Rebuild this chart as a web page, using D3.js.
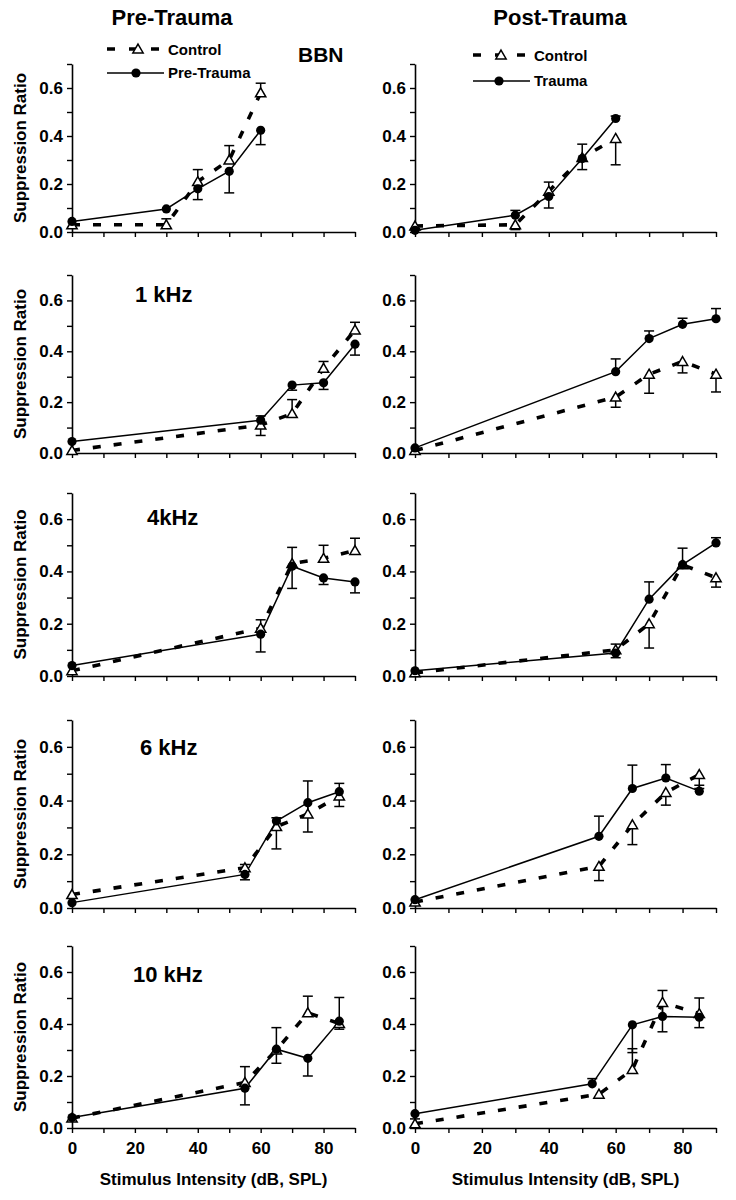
<!DOCTYPE html>
<html><head><meta charset="utf-8">
<script src="https://cdn.jsdelivr.net/npm/d3@7"></script>
<style>
body{margin:0;background:#fff}
svg{display:block}
text{font-family:"Liberation Sans",Arial,sans-serif;font-weight:bold;fill:#000}
</style>
</head><body><svg id="c" width="736" height="1200"></svg>
<script>
// ---------- data ----------
const columnTitles = ["Pre-Trauma", "Post-Trauma"];
const rowLabels = ["BBN", "1 kHz", "4kHz", "6 kHz", "10 kHz"];
const legendLeft = ["Control", "Pre-Trauma"];
const legendRight = ["Control", "Trauma"];
const yLabel = "Suppression Ratio";
const xLabel = "Stimulus Intensity (dB, SPL)";
const yTicks = [0, 0.1, 0.2, 0.3, 0.4, 0.5, 0.6, 0.7];
const yTickLabels = ["0.0", "", "0.2", "", "0.4", "", "0.6", ""];
const xTicks = [0, 10, 20, 30, 40, 50, 60, 70, 80, 90];
const xTickLabels = ["0", "", "20", "", "40", "", "60", "", "80", ""];

// stimulus levels (dB SPL)
const xBBN = [0, 30, 40, 50, 60];
const x1k = [0, 60, 70, 80, 90];
const x4k = [0, 60, 70, 80, 90];
const x6k = [0, 55, 65, 75, 85];
const x10k = [0, 55, 65, 75, 85];
const x10kPostCtrl = [0, 55, 65, 74, 85];
const x10kPostTrauma = [0, 53, 65, 74, 85];

// errors: signed (+ drawn upward, - drawn downward)
const bbnPreCtrl = [0.03, 0.03, 0.21, 0.30, 0.58];
const bbnPreCtrlErr = [0, 0.025, 0.05, 0.06, 0.04];
const bbnPre = [0.044, 0.096, 0.18, 0.253, 0.424];
const bbnPreErr = [0, 0, -0.045, -0.09, -0.06];
const bbnPostCtrl = [0.025, 0.03, 0.17, 0.31, 0.39];
const bbnPostCtrlErr = [0, -0.02, -0.07, -0.05, -0.11];
const bbnPost = [0.007, 0.07, 0.148, 0.306, 0.473];
const bbnPostErr = [0, 0.02, 0.06, 0.06, 0.01];

const k1PreCtrl = [0.01, 0.11, 0.155, 0.333, 0.484];
const k1PreCtrlErr = [0, 0.036, 0.055, 0.027, 0.03];
const k1Pre = [0.045, 0.129, 0.267, 0.276, 0.428];
const k1PreErr = [0, -0.06, -0.02, -0.026, -0.043];
const k1PostCtrl = [0.01, 0.22, 0.31, 0.36, 0.31];
const k1PostCtrlErr = [0, -0.04, -0.075, -0.045, -0.07];
const k1Post = [0.02, 0.32, 0.45, 0.506, 0.528];
const k1PostErr = [0, 0.05, 0.03, 0.024, 0.04];

const k4PreCtrl = [0.02, 0.183, 0.43, 0.45, 0.48];
const k4PreCtrlErr = [0, 0.032, 0.062, 0.05, 0.047];
const k4Pre = [0.04, 0.16, 0.42, 0.375, 0.36];
const k4PreErr = [0, -0.068, -0.085, -0.025, -0.042];
const k4PostCtrl = [0.012, 0.10, 0.20, 0.425, 0.376];
const k4PostCtrlErr = [0, -0.03, -0.093, -0.01, -0.036];
const k4Post = [0.02, 0.088, 0.294, 0.426, 0.509];
const k4PostErr = [0, 0.034, 0.066, 0.063, 0.02];

const k6PreCtrl = [0.05, 0.15, 0.303, 0.35, 0.417];
const k6PreCtrlErr = [0, 0.012, 0.033, 0.123, 0.047];
const k6Pre = [0.02, 0.125, 0.324, 0.392, 0.433];
const k6PreErr = [0, -0.02, -0.104, -0.109, -0.055];
const k6PostCtrl = [0.022, 0.155, 0.31, 0.43, 0.497];
const k6PostCtrlErr = [0, -0.053, -0.074, -0.047, -0.052];
const k6Post = [0.031, 0.267, 0.445, 0.484, 0.435];
const k6PostErr = [0, 0.075, 0.087, 0.05, 0.022];

const k10PreCtrl = [0.038, 0.175, 0.30, 0.443, 0.402];
const k10PreCtrlErr = [0, 0.061, 0.086, 0.064, 0.1];
const k10Pre = [0.04, 0.153, 0.303, 0.268, 0.411];
const k10PreErr = [0, -0.064, -0.054, -0.068, -0.031];
const k10PostCtrl = [0.016, 0.13, 0.225, 0.483, 0.44];
const k10PostCtrlErr = [0, -0.01, 0.08, -0.113, -0.054];
const k10Post = [0.055, 0.17, 0.397, 0.429, 0.426];
const k10PostErr = [-0.02, 0.02, -0.107, 0.1, 0.074];

// ---------- panels ----------
const panels = [
  {row:0,col:0,cx:xBBN,cy:bbnPreCtrl,ce:bbnPreCtrlErr,tx:xBBN,ty:bbnPre,te:bbnPreErr},
  {row:0,col:1,cx:xBBN,cy:bbnPostCtrl,ce:bbnPostCtrlErr,tx:xBBN,ty:bbnPost,te:bbnPostErr},
  {row:1,col:0,cx:x1k,cy:k1PreCtrl,ce:k1PreCtrlErr,tx:x1k,ty:k1Pre,te:k1PreErr},
  {row:1,col:1,cx:x1k,cy:k1PostCtrl,ce:k1PostCtrlErr,tx:x1k,ty:k1Post,te:k1PostErr},
  {row:2,col:0,cx:x4k,cy:k4PreCtrl,ce:k4PreCtrlErr,tx:x4k,ty:k4Pre,te:k4PreErr},
  {row:2,col:1,cx:x4k,cy:k4PostCtrl,ce:k4PostCtrlErr,tx:x4k,ty:k4Post,te:k4PostErr},
  {row:3,col:0,cx:x6k,cy:k6PreCtrl,ce:k6PreCtrlErr,tx:x6k,ty:k6Pre,te:k6PreErr},
  {row:3,col:1,cx:x6k,cy:k6PostCtrl,ce:k6PostCtrlErr,tx:x6k,ty:k6Post,te:k6PostErr},
  {row:4,col:0,cx:x10k,cy:k10PreCtrl,ce:k10PreCtrlErr,tx:x10k,ty:k10Pre,te:k10PreErr},
  {row:4,col:1,cx:x10kPostCtrl,cy:k10PostCtrl,ce:k10PostCtrlErr,tx:x10kPostTrauma,ty:k10Post,te:k10PostErr}
];

// ---------- layout ----------
const colX = [[72, 355], [415, 716]];
const rowY = [[232, 64], [453, 275], [676, 493], [908, 720], [1128, 946]];
const rowLabelPos = [null, [135, 302], [147, 525], [140, 755], [133, 982]];

const svg = d3.select("#c");
svg.append("rect").attr("width", 736).attr("height", 1200).attr("fill", "#fff");

const triPath = d3.symbol().type(d3.symbolTriangle).size(46)();

function drawTri(g, x, y) {
  g.append("path").attr("d", triPath)
    .attr("transform", `translate(${x},${y + 1})`)
    .attr("fill", "#fff").attr("stroke", "#000").attr("stroke-width", 1.5);
}
function drawDot(g, x, y) {
  g.append("circle").attr("cx", x).attr("cy", y).attr("r", 4.6).attr("fill", "#000");
}

panels.forEach(p => {
  const [x0, x1] = colX[p.col];
  const [yb, yt] = rowY[p.row];
  const x = d3.scaleLinear().domain([0, 90]).range([x0, x1]);
  const y = d3.scaleLinear().domain([0, 0.7]).range([yb, yt]);
  const g = svg.append("g");
  const bottom = p.row === 4;

  // axes
  const ax = g.append("g").attr("transform", `translate(0,${yb})`)
    .call(d3.axisBottom(x).tickValues(xTicks).tickSize(5).tickSizeOuter(0).tickPadding(9)
      .tickFormat((d, i) => bottom ? xTickLabels[i] : ""));
  const ay = g.append("g").attr("transform", `translate(${x0},0)`)
    .call(d3.axisLeft(y).tickValues(yTicks).tickSize(5).tickSizeOuter(0).tickPadding(4)
      .tickFormat((d, i) => yTickLabels[i]));
  [ax, ay].forEach(a => {
    a.selectAll("path.domain").attr("stroke", "#000").attr("stroke-width", 1.6);
    a.selectAll(".tick line").attr("stroke", "#000").attr("stroke-width", 1.4);
    a.selectAll(".tick text").attr("font-size", 17).attr("font-weight", "bold")
      .attr("font-family", '"Liberation Sans",Arial,sans-serif').attr("fill", "#000");
  });

  // y label (left column only)
  if (p.col === 0) {
    g.append("text").attr("transform", `translate(${x0 - 46},${(yb + yt) / 2}) rotate(-90)`)
      .attr("text-anchor", "middle").attr("font-size", 17).text(yLabel);
  }

  if (bottom) {
    g.append("text").attr("x", (x0 + x1) / 2).attr("y", yb + 57)
      .attr("text-anchor", "middle").attr("font-size", 17).text(xLabel);
  }

  const ctrl = p.cx.map((v, i) => ({x: v, y: p.cy[i], e: p.ce[i]}));
  const trt = p.tx.map((v, i) => ({x: v, y: p.ty[i], e: p.te[i]}));
  const line = d3.line().x(d => x(d.x)).y(d => y(d.y));

  g.append("path").datum(ctrl).attr("d", line).attr("fill", "none")
    .attr("stroke", "#000").attr("stroke-width", 3.6).attr("stroke-dasharray", "8,13");
  g.append("path").datum(trt).attr("d", line).attr("fill", "none")
    .attr("stroke", "#000").attr("stroke-width", 1.5);

  // error bars
  ctrl.concat(trt).filter(d => d.e !== 0).forEach(d => {
    const xx = x(d.x), ya = y(d.y), ye = y(d.y + d.e);
    g.append("line").attr("x1", xx).attr("x2", xx).attr("y1", ya).attr("y2", ye)
      .attr("stroke", "#000").attr("stroke-width", 1.5);
    g.append("line").attr("x1", xx - 5).attr("x2", xx + 5).attr("y1", ye).attr("y2", ye)
      .attr("stroke", "#000").attr("stroke-width", 1.5);
  });

  ctrl.forEach(d => drawTri(g, x(d.x), y(d.y)));
  trt.forEach(d => drawDot(g, x(d.x), y(d.y)));

  if (p.col === 0 && rowLabelPos[p.row]) {
    g.append("text").attr("x", rowLabelPos[p.row][0]).attr("y", rowLabelPos[p.row][1])
      .attr("font-size", 22).text(rowLabels[p.row]);
  }
});

// column titles
svg.append("text").attr("x", 172).attr("y", 25).attr("text-anchor", "middle")
  .attr("font-size", 22).text(columnTitles[0]);
svg.append("text").attr("x", 560).attr("y", 25).attr("text-anchor", "middle")
  .attr("font-size", 22).text(columnTitles[1]);
svg.append("text").attr("x", 298).attr("y", 62).attr("font-size", 21).text(rowLabels[0]);

// legends
function legend(labels, lx0, lx1, mx, y1, y2, tx) {
  const g = svg.append("g");
  g.append("line").attr("x1", lx0).attr("x2", lx1).attr("y1", y1).attr("y2", y1)
    .attr("stroke", "#000").attr("stroke-width", 3.6).attr("stroke-dasharray", "8,14");
  drawTri(g, mx, y1);
  g.append("text").attr("x", tx).attr("y", y1 + 6).attr("font-size", 15).text(labels[0]);
  g.append("line").attr("x1", lx0).attr("x2", lx1 + 4).attr("y1", y2).attr("y2", y2)
    .attr("stroke", "#000").attr("stroke-width", 1.5);
  drawDot(g, mx - 2, y2);
  g.append("text").attr("x", tx).attr("y", y2 + 5).attr("font-size", 15).text(labels[1]);
}
legend(legendLeft, 107, 160, 138, 49, 73, 168);
legend(legendRight, 473, 526, 501, 55, 81, 534);
</script>
</body></html>
